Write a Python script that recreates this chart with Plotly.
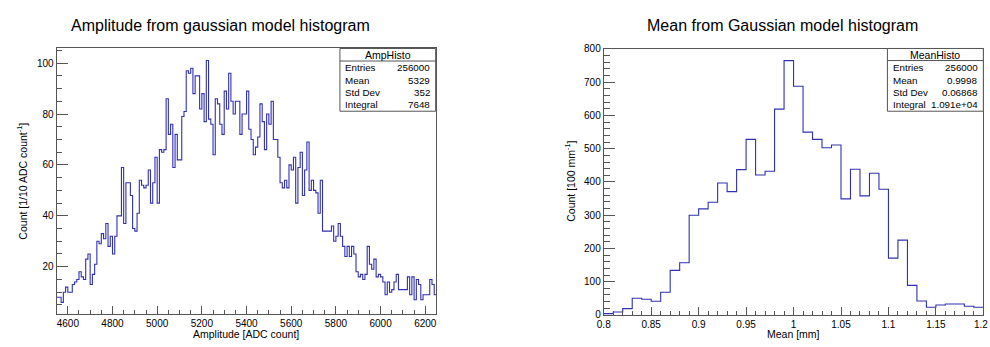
import plotly.graph_objects as go

# ---- histogram definitions -------------------------------------------------
amp_lo, amp_hi = 4550.0, 6250.0
amp_counts = [
    8, 8, 6, 10, 12, 10, 10, 13, 14, 15,
    18, 16, 15, 23, 25, 13, 17, 21, 30, 29,
    33, 31, 37, 28, 32, 25, 32, 40, 40, 59,
    37, 53, 53, 48, 35, 34, 41, 54, 52, 51,
    52, 58, 45, 53, 63, 45, 66, 65, 66, 86,
    72, 76, 59, 72, 62, 62, 79, 81, 97, 96,
    98, 88, 95, 95, 82, 88, 77, 101, 78, 76,
    64, 86, 84, 76, 72, 89, 82, 96, 85, 80,
    85, 85, 72, 80, 80, 89, 74, 70, 64, 67,
    71, 84, 77, 66, 80, 76, 85, 70, 70, 63,
    53, 51, 54, 51, 60, 58, 63, 45, 59, 65,
    48, 58, 69, 50, 54, 50, 49, 41, 54, 34,
    34, 34, 34, 36, 30, 32, 37, 32, 28, 24,
    28, 24, 28, 25, 18, 16, 17, 15, 17, 28,
    21, 19, 23, 16, 17, 16, 14, 9, 14, 10,
    11, 14, 17, 11, 11, 11, 11, 16, 9, 16,
    7, 15, 13, 7, 9, 9, 9, 15, 13, 9,
]
amp_xticks = [4600, 4800, 5000, 5200, 5400, 5600, 5800, 6000, 6200]
amp_yticks = [20, 40, 60, 80, 100]

mean_lo, mean_hi = 0.8, 1.2
mean_counts = [
    4, 9, 19, 50, 47, 41, 68, 134, 157, 300,
    319, 339, 397, 371, 437, 528, 421, 432, 619, 765,
    688, 550, 528, 503, 511, 349, 438, 358, 426, 378,
    171, 225, 89, 42, 23, 30, 33, 33, 26, 23,
]
mean_xticks = [0.8, 0.85, 0.9, 0.95, 1.0, 1.05, 1.1, 1.15, 1.2]
mean_xticklabels = ["0.8", "0.85", "0.9", "0.95", "1", "1.05", "1.1", "1.15", "1.2"]
mean_yticks = [0, 100, 200, 300, 400, 500, 600, 700, 800]

amp_stats = ["AmpHisto", ("Entries", "256000"), ("Mean", "5329"),
             ("Std Dev", "352"), ("Integral", "7648")]
mean_stats = ["MeanHisto", ("Entries", "256000"), ("Mean", "0.9998"),
              ("Std Dev", "0.06868"), ("Integral", "1.091e+04")]

amp_title = "Amplitude from gaussian model histogram"
mean_title = "Mean from Gaussian model histogram"
amp_xlabel = "Amplitude [ADC count]"
amp_ylabel = "Count [1/10 ADC count<sup>-1</sup>]"
mean_xlabel = "Mean [mm]"
mean_ylabel = "Count [100 mm<sup>-1</sup>]"

# ---- page geometry (pixels) -----------------------------------------------
W, H = 990, 347
FONT = "Liberation Sans, Arial, Helvetica, sans-serif"
LINE_BLUE = "#3030b4"
FRAME = "#555555"


def px(x):
    return x / W


def py(y):
    return 1 - y / H


def step_xy(lo, hi, counts):
    n = len(counts)
    w = (hi - lo) / n
    xs = [lo + i * w for i in range(n)] + [hi]
    ys = list(counts) + [counts[-1]]
    return xs, ys


fig = go.Figure()

ax, ay = step_xy(amp_lo, amp_hi, amp_counts)
fig.add_trace(go.Scatter(x=ax, y=ay, mode="lines", line=dict(shape="hv", color=LINE_BLUE, width=1.1),
                         xaxis="x", yaxis="y", hoverinfo="skip", showlegend=False))
mx, my = step_xy(mean_lo, mean_hi, mean_counts)
fig.add_trace(go.Scatter(x=mx, y=my, mode="lines", line=dict(shape="hv", color=LINE_BLUE, width=1.1),
                         xaxis="x2", yaxis="y2", hoverinfo="skip", showlegend=False))

tick_font = dict(family=FONT, size=10, color="#000000")


def axis(domain, rng, tickvals, ticktext, minor, anchor, ticklen):
    return dict(domain=domain, range=rng, anchor=anchor,
                tickmode="array", tickvals=tickvals, ticktext=ticktext,
                showgrid=False, zeroline=False, showline=True, linecolor=FRAME, linewidth=1,
                mirror=True, ticks="inside", ticklen=ticklen, tickwidth=1, tickcolor=FRAME,
                tickfont=tick_font,
                minor=dict(ticks="inside", ticklen=ticklen / 2, dtick=minor, tick0=0,
                           tickcolor=FRAME, showgrid=False))


left_dom_x = [px(50), px(432.5)]
left_dom_y = [py(319.5), py(44)]
right_dom_x = [px(601), px(983.3)]
right_dom_y = [py(320), py(44.5)]

# the last label of the mean axis sits at the page edge; it is drawn as an
# annotation nudged inward so it stays inside the page
mean_axis_text = mean_xticklabels[:-1] + [""]

fig.update_layout(
    width=W, height=H, margin=dict(l=0, r=0, t=0, b=0),
    paper_bgcolor="white", plot_bgcolor="white",
    font=dict(family=FONT, color="#000000"),
    xaxis=axis(left_dom_x, [amp_lo, amp_hi], amp_xticks, [str(v) for v in amp_xticks], 50, "y", 8),
    yaxis=axis(left_dom_y, [1.25, 105.75], amp_yticks, [str(v) for v in amp_yticks], 5, "x", 11.5),
    xaxis2=axis(right_dom_x, [mean_lo, mean_hi + 1e-9], mean_xticks, mean_axis_text, 0.01, "y2", 8),
    yaxis2=axis(right_dom_y, [0, 800], mean_yticks, [str(v) for v in mean_yticks], 20, "x2", 11.5),
)

annotations = []
shapes = []


def text(x, y, s, size, anchor="center", angle=0, yanchor="middle"):
    annotations.append(dict(x=px(x), y=py(y), xref="paper", yref="paper", text=s, showarrow=False,
                            xanchor=anchor, yanchor=yanchor, textangle=angle, borderpad=0,
                            font=dict(family=FONT, size=size, color="#000000")))


annotations.append(dict(x=mean_xticks[-1], xref="x2", y=py(329.5), yref="paper",
                        text=mean_xticklabels[-1], showarrow=False, xanchor="center",
                        yanchor="middle", xshift=-2.5, borderpad=0, font=tick_font))

# panel titles
text(215, 20, amp_title, 16)
text(781, 20, mean_title, 16)

# axis titles
text(241, 347, amp_xlabel, 10.5, yanchor="bottom")
text(15, 181, amp_ylabel, 10.5, angle=-90)
text(792, 347, mean_xlabel, 10.5, yanchor="bottom")
text(567, 181, mean_ylabel, 10.5, angle=-90)


def stats_box(x0, x1, y0, y1, ysep, stats):
    shapes.append(dict(type="rect", xref="paper", yref="paper", x0=px(x0), x1=px(x1),
                       y0=py(y1), y1=py(y0), line=dict(color=FRAME, width=1),
                       fillcolor="white", layer="above"))
    shapes.append(dict(type="line", xref="paper", yref="paper", x0=px(x0), x1=px(x1),
                       y0=py(ysep), y1=py(ysep), line=dict(color=FRAME, width=1), layer="above"))
    text((x0 + x1) / 2, (y0 + ysep) / 2 + 0.5, stats[0], 10.5)
    row_y = [64, 76.7, 89.3, 101.7]
    for (name, val), yy in zip(stats[1:], row_y):
        text(x0 + 4.5, yy, name, 9.8, anchor="left")
        text(x1 - 4.5, yy, val, 9.8, anchor="right")


stats_box(335.3, 431.7, 44, 109, 57, amp_stats)
stats_box(886.7, 983.3, 44, 109, 56.5, mean_stats)

fig.update_layout(annotations=annotations, shapes=shapes)
fig.write_html("out.html")
